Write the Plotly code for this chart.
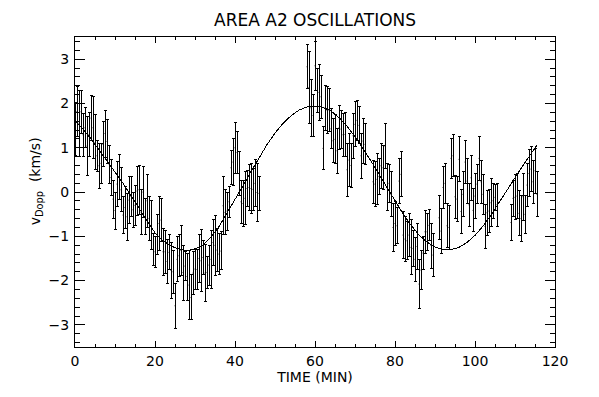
import plotly.graph_objects as go

# ---- data (time in min, Doppler velocity in km/s) ----
time_min = [
    0.0, 0.5, 1.0, 1.5, 2.0, 2.5, 3.0, 3.5, 4.0, 4.5, 5.0, 5.5, 6.0, 6.5, 7.0, 7.5, 8.0, 8.5, 9.0, 9.5,
    10.0, 10.5, 11.0, 11.5, 12.0, 12.5, 13.0, 13.5, 14.0, 14.5, 15.0, 15.5, 16.0, 16.5, 17.0, 17.5, 18.0, 18.5, 19.0, 19.5,
    20.0, 20.5, 21.0, 21.5, 22.0, 22.5, 23.0, 23.5, 24.0, 24.5, 25.0, 25.5, 26.0, 26.5, 27.0, 27.5, 28.0, 28.5, 29.0, 29.5,
    30.0, 30.5, 31.0, 31.5, 32.0, 32.5, 33.0, 33.5, 34.0, 34.5, 35.0, 35.5, 36.0, 36.5, 37.0, 37.5, 38.0, 38.5, 39.0, 39.5,
    40.0, 40.5, 41.0, 41.5, 42.0, 42.5, 43.0, 43.5, 44.0, 44.5, 45.0, 45.5, 46.0,
    58.0, 58.5, 59.0, 59.5, 60.0, 60.5, 61.0, 61.5, 62.0, 62.5, 63.0, 63.5, 64.0, 64.5, 65.0, 65.5,
    66.0, 66.5, 67.0, 67.5, 68.0, 68.5, 69.0, 69.5, 70.0, 70.5, 71.0, 71.5, 72.0, 72.5,
    74.5, 75.0, 75.5, 76.0, 76.5, 77.0, 77.5, 78.0, 78.5, 79.0, 79.5, 80.0, 80.5, 81.0, 81.5,
    82.0, 82.5, 83.0, 83.5, 84.0, 84.5, 85.0, 85.5, 86.0, 86.5, 87.0, 87.5, 88.0, 88.5, 89.0, 89.5,
    91.0, 91.5, 92.0, 92.5, 93.0, 93.5, 94.0, 94.5, 95.0, 95.5, 96.0, 96.5, 97.0, 97.5, 98.0, 98.5,
    99.0, 99.5, 100.0, 100.5, 101.0, 101.5, 102.0, 102.5, 103.0, 103.5, 104.0, 104.5, 105.0, 105.5,
    109.0, 109.5, 110.0, 110.5, 111.0, 111.5, 112.0, 112.5, 113.0, 113.5, 114.0, 114.5, 115.0, 115.5,
]

v_dopp = [
    1.42, 1.82, 1.55, 1.81, 1.29, 1.45, 1.04, 1.30, 1.67, 1.45, 1.12, 0.82, 0.59, 0.65, 1.08, 1.32, 1.14, 0.63, 0.33, -0.16,
    -0.42, 0.18, 0.33, 0.05, -0.52, -0.35, -0.56, -0.18, -0.10, -0.40, -0.30, 0.02, 0.05, -0.45, 0.00, -0.55, -0.20, -0.60, -0.75, -1.29,
    -1.35, -0.95, -0.71, -0.63, -1.35, -1.35, -1.57, -1.36, -1.77, -1.80, -2.57, -1.52, -1.44, -1.32, -1.82, -1.67, -1.91, -2.10, -2.38, -1.83,
    -1.74, -1.75, -1.50, -1.55, -1.48, -1.83, -1.82, -1.65, -1.52, -1.14, -1.20, -1.31, -1.40, -1.33, -0.31, -0.46, -0.43, -0.22, 0.55, 0.68,
    1.00, 0.89, 0.42, -0.22, -0.26, -0.14, 0.08, 0.10, 0.08, 0.06, 0.20, -0.01, -0.03,
    2.83, 2.36, 1.90, 1.73, 2.85, 2.29, 2.25, 2.15, 0.99, 1.90, 1.85, 1.85, 1.43, 1.16, 1.19, 0.93,
    1.45, 1.42, 1.29, 1.30, 0.50, 0.72, 0.60, 1.27, 1.53, 1.62, 1.51, 0.82, 1.15, 1.08,
    0.23, 0.18, 0.29, 0.35, 0.59, 0.55, 1.04, 0.12, 0.20, -0.05, -0.80, -0.71, -0.76, 0.25, 0.40,
    -0.97, -1.06, -1.10, -0.97, -1.25, -1.27, -1.52, -1.23, -2.08, -1.76, -1.38, -0.90, -0.90, -0.75, -1.21, -1.42,
    -0.58, -0.88, 0.10, 0.20, -0.76, -0.80, 0.76, 0.82, -0.11, -0.16, 0.74, -0.44, -0.05, 0.68, 0.25, -0.29,
    0.32, -0.41, -0.09, 0.18, 0.76, 0.23, -0.05, -0.78, -0.47, -0.43, -0.24, -0.20, -0.12, -0.29,
    -0.69, -0.14, -0.12, -0.09, -0.48, -0.60, -0.11, -0.50, 0.16, 0.42, 0.52, 0.23, 0.48, -0.05,
]

v_err = [
    0.59, 0.57, 0.75, 0.49, 0.49, 0.45, 0.66, 0.50, 0.50, 0.70, 0.62, 0.35, 0.51, 0.45, 0.51, 0.53, 0.49, 0.43, 0.40, 0.43,
    0.42, 0.51, 0.51, 0.50, 0.41, 0.47, 0.53, 0.53, 0.45, 0.40, 0.45, 0.55, 0.55, 0.50, 0.58, 0.40, 0.60, 0.50, 0.55, 0.36,
    0.35, 0.45, 0.60, 0.49, 0.53, 0.49, 0.49, 0.40, 0.64, 0.49, 0.51, 0.51, 0.47, 0.56, 0.62, 0.32, 0.53, 0.79, 0.51, 0.49,
    0.47, 0.45, 0.55, 0.70, 0.39, 0.64, 0.36, 0.45, 0.66, 0.51, 0.68, 0.49, 0.47, 0.43, 0.66, 0.51, 0.43, 0.35, 0.39, 0.53,
    0.58, 0.47, 0.49, 0.49, 0.53, 0.60, 0.41, 0.51, 0.56, 0.47, 0.53, 0.66, 0.38,
    0.49, 0.81, 0.65, 0.48, 0.55, 0.50, 0.63, 0.49, 0.49, 0.50, 0.53, 0.49, 0.45, 0.50, 0.55, 0.51,
    0.50, 0.43, 0.49, 0.50, 0.60, 0.60, 0.49, 0.51, 0.51, 0.45, 0.41, 0.51, 0.50, 0.47,
    0.49, 0.51, 0.58, 0.41, 0.51, 0.50, 0.51, 0.53, 0.43, 0.51, 0.55, 0.49, 0.40, 0.51, 0.51,
    0.53, 0.50, 0.43, 0.49, 0.62, 0.41, 0.50, 0.53, 0.55, 0.45, 0.38, 0.49, 0.41, 0.35, 0.51, 0.49,
    0.50, 0.50, 0.47, 0.45, 0.50, 0.49, 0.45, 0.47, 0.49, 0.51, 0.51, 0.49, 0.51, 0.49, 0.51, 0.49,
    0.51, 0.49, 0.51, 0.43, 0.49, 0.49, 0.45, 0.49, 0.51, 0.49, 0.55, 0.39, 0.30, 0.49,
    0.40, 0.41, 0.51, 0.51, 0.51, 0.51, 0.53, 0.43, 0.49, 0.53, 0.51, 0.49, 0.51, 0.51,
]

# fitted oscillation curve
fit_time = [0, 2, 4, 6, 8, 10, 12, 14, 16, 18, 20, 22, 24, 26, 28, 30, 32, 34, 36, 38,
            40, 42, 44, 46, 48, 50, 52, 54, 56, 58, 60, 62, 64, 66, 68, 70, 72, 74, 76, 78,
            80, 82, 84, 86, 88, 90, 92, 94, 96, 98, 100, 102, 104, 106, 108, 110, 112, 114, 115.5]
fit_v = [1.60, 1.42, 1.20, 0.95, 0.70, 0.45, 0.20, -0.08, -0.38, -0.65, -0.92, -1.10, -1.22, -1.29, -1.32, -1.29, -1.20, -1.02, -0.78, -0.48,
         -0.17, 0.14, 0.46, 0.78, 1.07, 1.33, 1.55, 1.72, 1.85, 1.92, 1.94, 1.91, 1.83, 1.68, 1.49, 1.25, 0.98, 0.70, 0.40, 0.10,
         -0.20, -0.49, -0.75, -0.97, -1.13, -1.24, -1.30, -1.30, -1.25, -1.14, -0.98, -0.77, -0.52, -0.25, 0.04, 0.32, 0.60, 0.86, 1.06]

x_ticks = [0, 20, 40, 60, 80, 100, 120]
y_ticks = [-3, -2, -1, 0, 1, 2, 3]

FONT = "DejaVu Sans"

fig = go.Figure()
fig.add_trace(go.Scatter(
    x=time_min, y=v_dopp, mode="markers",
    marker=dict(size=1, color="black"),
    error_y=dict(type="data", array=v_err, symmetric=True,
                 thickness=1, width=1.5, color="black"),
    showlegend=False, hoverinfo="skip",
))
fig.add_trace(go.Scatter(
    x=fit_time, y=fit_v, mode="lines",
    line=dict(color="black", width=1),
    showlegend=False, hoverinfo="skip",
))

axis_common = dict(
    showline=True, linecolor="black", linewidth=1, mirror="allticks",
    ticks="inside", tickcolor="black", tickwidth=1,
    showgrid=False, zeroline=False,
    tickfont=dict(family=FONT, size=14, color="black"),
)

fig.update_layout(
    width=599, height=397,
    margin=dict(l=75, r=44, t=37, b=50),
    paper_bgcolor="white", plot_bgcolor="white",
    title=dict(text="AREA A2 OSCILLATIONS", x=0.526, xanchor="center",
               y=1 - 20 / 397, yanchor="middle", yref="container",
               font=dict(family=FONT, size=17, color="black")),
    xaxis=dict(range=[0, 120], tickvals=x_ticks, ticklen=6,
               minor=dict(dtick=5, tick0=0, ticklen=3, ticks="inside", tickcolor="black"),
               title=dict(text="TIME (MIN)", font=dict(family=FONT, size=14, color="black"), standoff=2),
               ticklabelstandoff=1,
               **axis_common),
    yaxis=dict(range=[-3.5, 3.5], tickvals=y_ticks, ticklen=10,
               minor=dict(dtick=0.2, tick0=0, ticklen=5, ticks="inside", tickcolor="black"),
               ticklabelstandoff=2,
               **axis_common),
    annotations=[dict(text="v<sub>Dopp</sub>  (km/s)", textangle=-90,
                      xref="paper", yref="paper", x=-0.081, y=0.535,
                      xanchor="center", yanchor="middle", showarrow=False,
                      font=dict(family=FONT, size=14, color="black"))],
)

crisp_js = ("var s=document.createElement('style');"
            "s.innerHTML='.errorbar path, .scatterlayer .js-line{shape-rendering:crispEdges}';"
            "document.head.appendChild(s);")
fig.write_html("out.html", post_script=crisp_js)
